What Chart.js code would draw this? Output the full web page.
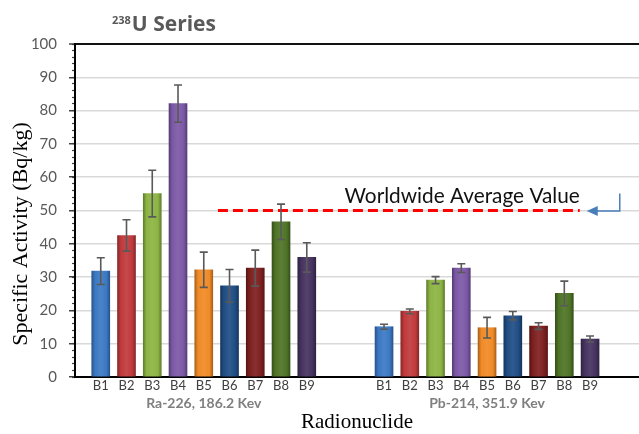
<!DOCTYPE html>
<html>
<head>
<meta charset="utf-8">
<script src="https://cdn.jsdelivr.net/npm/chart.js@4.4.1/dist/chart.umd.min.js"></script>
<style>
  html, body { margin: 0; padding: 0; background: #fff; }
  #wrap { width: 639px; height: 434px; }
</style>
</head>
<body>
<div id="wrap"><canvas id="chart" width="639" height="434"></canvas></div>
<script>
// data
const categories = ['B1', 'B2', 'B3', 'B4', 'B5', 'B6', 'B7', 'B8', 'B9'];
const groups = ['Ra-226, 186.2 Kev', 'Pb-214, 351.9 Kev'];
const raValues = [31.8, 42.5, 55.1, 82.1, 32.2, 27.4, 32.7, 46.6, 35.9];
const raErrors = [4.0, 4.7, 7.0, 5.6, 5.3, 4.9, 5.4, 5.3, 4.4];
const pbValues = [15.1, 19.7, 29.1, 32.7, 14.8, 18.4, 15.3, 25.1, 11.4];
const pbErrors = [0.75, 0.7, 1.05, 1.3, 3.1, 1.25, 1.0, 3.7, 0.9];
const worldAverage = 50;

// layout on the x axis (slot positions)
const groupStart = [1, 12];
const xMax = 21.9;
const avgSpan = [5.55, 19.6];

const barColors = ['#3b78c3', '#c0393b', '#8cb443', '#7b58a6', '#f08a26',
                   '#1f4d84', '#7e1f1f', '#4e7326', '#45325f'];

const groupData = [raValues, pbValues];
const groupErr = [raErrors, pbErrors];

function shade(hex, amt) {
  const n = parseInt(hex.slice(1), 16);
  let r = n >> 16, g = (n >> 8) & 255, b = n & 255;
  const t = amt < 0 ? 0 : 255, p = Math.abs(amt);
  r = Math.round(r + (t - r) * p);
  g = Math.round(g + (t - g) * p);
  b = Math.round(b + (t - b) * p);
  return `rgb(${r},${g},${b})`;
}

function barFill(c) {
  const base = barColors[c.dataIndex % barColors.length];
  const chart = c.chart;
  if (!chart.chartArea || !c.parsed) return base;
  const x = chart.scales.x.getPixelForValue(c.parsed.x);
  const g = chart.ctx.createLinearGradient(x - 9, 0, x + 9, 0);
  g.addColorStop(0, shade(base, -0.3));
  g.addColorStop(0.18, base);
  g.addColorStop(0.5, shade(base, 0.08));
  g.addColorStop(0.82, base);
  g.addColorStop(1, shade(base, -0.3));
  return g;
}

function barLabel(v) {
  for (let g = 0; g < groupStart.length; g++) {
    const i = Math.round(v) - groupStart[g];
    if (i >= 0 && i < categories.length) return categories[i];
  }
  return '';
}

const errorBars = {
  id: 'errorBars',
  afterDatasetsDraw(chart) {
    const { ctx } = chart;
    const y = chart.scales.y;
    ctx.save();
    ctx.strokeStyle = '#595959';
    ctx.lineWidth = 1.6;
    groupErr.forEach((errs, g) => {
      chart.getDatasetMeta(g).data.forEach((bar, i) => {
        const v = groupData[g][i], e = errs[i];
        const top = y.getPixelForValue(v + e);
        const bot = y.getPixelForValue(v - e);
        ctx.beginPath();
        ctx.moveTo(bar.x, top); ctx.lineTo(bar.x, bot);
        ctx.moveTo(bar.x - 4, top); ctx.lineTo(bar.x + 4, top);
        ctx.moveTo(bar.x - 4, bot); ctx.lineTo(bar.x + 4, bot);
        ctx.stroke();
      });
    });
    ctx.restore();
  }
};

const extraText = {
  id: 'extraText',
  afterDraw(chart) {
    const { ctx } = chart;
    const x = chart.scales.x, y = chart.scales.y;
    ctx.save();

    // title with superscript
    ctx.fillStyle = '#595959';
    ctx.textBaseline = 'alphabetic';
    ctx.textAlign = 'left';
    ctx.font = 'bold 11px "Open Sans"';
    ctx.fillText('238', 112, 23.5);
    const w = ctx.measureText('238').width;
    ctx.font = 'bold 21px "Open Sans"';
    ctx.fillText('U Series', 112 + w + 1, 31);

    // y axis title
    ctx.save();
    ctx.translate(27, 234);
    ctx.rotate(-Math.PI / 2);
    ctx.fillStyle = '#000';
    ctx.textAlign = 'center';
    ctx.font = '22px "Liberation Serif"';
    ctx.fillText('Specific Activity (Bq/kg)', 0, 0);
    ctx.restore();

    // worldwide average label and arrow
    const ly = y.getPixelForValue(worldAverage);
    const lx = x.getPixelForValue(avgSpan[1]);
    ctx.fillStyle = '#111';
    ctx.textAlign = 'right';
    ctx.font = '20.8px Lato';
    ctx.fillText('Worldwide Average Value', lx, ly - 8);

    ctx.strokeStyle = '#4a7ebb';
    ctx.fillStyle = '#4a7ebb';
    ctx.lineWidth = 1.5;
    ctx.beginPath();
    ctx.moveTo(lx + 40, ly - 17);
    ctx.lineTo(lx + 40, ly + 0.5);
    ctx.lineTo(lx + 17, ly + 0.5);
    ctx.stroke();
    ctx.beginPath();
    ctx.moveTo(lx + 7, ly + 0.5);
    ctx.lineTo(lx + 18, ly - 4.5);
    ctx.lineTo(lx + 18, ly + 5.5);
    ctx.closePath();
    ctx.fill();
    ctx.restore();
  }
};

const datasets = groups.map((name, g) => ({
  type: 'bar',
  label: name,
  data: groupData[g].map((v, i) => ({ x: groupStart[g] + i, y: v })),
  backgroundColor: barFill,
  borderWidth: 0,
  barThickness: 18,
  grouped: false,
  xAxisID: 'x',
  yAxisID: 'y',
  order: 1
}));

datasets.push({
  type: 'line',
  label: 'Worldwide Average Value',
  data: avgSpan.map(v => ({ x: v, y: worldAverage })),
  borderColor: '#ff0000',
  borderWidth: 3.2,
  borderDash: [10, 5],
  pointRadius: 0,
  xAxisID: 'x',
  yAxisID: 'y',
  order: 0
});

new Chart(document.getElementById('chart'), {
  data: { datasets },
  options: {
    responsive: false,
    animation: false,
    layout: { padding: { top: 44, left: 0, right: 0, bottom: 0 } },
    plugins: { legend: { display: false }, tooltip: { enabled: false } },
    scales: {
      x: {
        type: 'linear', position: 'bottom', min: 0, max: xMax, weight: 0, offset: false,
        afterBuildTicks: s => {
          s.ticks = [];
          groupStart.forEach(st => categories.forEach((_, i) => s.ticks.push({ value: st + i })));
        },
        ticks: {
          autoSkip: false, maxRotation: 0, minRotation: 0, padding: 1,
          color: '#404040', font: { family: 'Lato', size: 13 },
          callback: v => barLabel(v)
        },
        grid: { display: false, drawTicks: false, offset: false },
        border: { color: '#000', width: 2 },
        afterFit: s => { s.height = 18; }
      },
      x2: {
        type: 'linear', position: 'bottom', min: 0, max: xMax, weight: 1, offset: false,
        afterBuildTicks: s => { s.ticks = groups.map((_, g) => ({ value: groupStart[g] + 4 })); },
        ticks: {
          autoSkip: false, maxRotation: 0, minRotation: 0, padding: 0,
          color: '#7f7f7f', font: { family: 'Lato', size: 14, weight: 'bold' },
          callback: (v, i) => groups[i]
        },
        grid: { display: false, drawTicks: false, offset: false },
        border: { display: false },
        title: {
          display: true, text: 'Radionuclide', color: '#000',
          font: { family: 'Liberation Serif', size: 21, lineHeight: 1.05 },
          padding: { top: 0, bottom: 0 }
        },
        afterFit: s => { s.height = 39; }
      },
      y: {
        type: 'linear', position: 'left', min: 0, max: 100, weight: 1,
        ticks: { stepSize: 10, padding: 12, color: '#595959', font: { family: 'Lato', size: 15 } },
        grid: {
          color: c => (c.tick && c.tick.value === 100 ? '#111' : '#d9d9d9'),
          lineWidth: c => (c.tick && c.tick.value === 100 ? 2 : 1.5),
          tickColor: '#404040', tickLength: 6, tickWidth: 1.5
        },
        border: { color: '#000', width: 2 },
        afterFit: s => { s.width = 75; }
      },
      yMinor: {
        type: 'linear', position: 'left', min: 0, max: 100, weight: 0,
        ticks: { display: false, stepSize: 2 },
        grid: { drawOnChartArea: false, tickLength: 3, tickColor: '#404040', tickWidth: 1.2 },
        border: { display: false },
        afterFit: s => { s.width = 0; }
      }
    }
  },
  plugins: [errorBars, extraText]
});
</script>
</body>
</html>
